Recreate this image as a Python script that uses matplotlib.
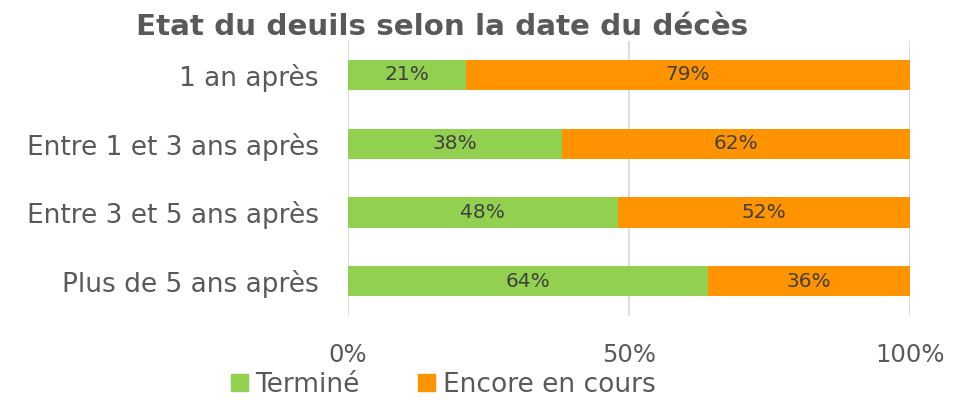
import matplotlib
matplotlib.use("Agg")
import matplotlib.pyplot as plt
from matplotlib.patches import Patch

plt.rcParams['font.family'] = ['DejaVu Sans']

categories = ["1 an après", "Entre 1 et 3 ans après", "Entre 3 et 5 ans après", "Plus de 5 ans après"]
termine = [21, 38, 48, 64]
encore = [79, 62, 52, 36]
series_names = ["Terminé", "Encore en cours"]
colors = ["#92D050", "#FF9300"]
xticks = [0, 50, 100]
xticklabels = ["0%", "50%", "100%"]

fig = plt.figure(figsize=(9.74, 4.03), dpi=100)
ax = fig.add_axes([348/974, 1-315.5/403, (910-348)/974, 275/403])

ypos = list(range(len(categories)))
b1 = ax.barh(ypos, termine, height=0.44, color=colors[0], zorder=2)
b2 = ax.barh(ypos, encore, left=termine, height=0.44, color=colors[1], zorder=2)
for bars, vals, lefts in ((b1, termine, [0]*4), (b2, encore, termine)):
    for y, v, l in zip(ypos, vals, lefts):
        ax.text(l + v/2, y, f"{v}%", ha="center", va="center", fontsize=14.5, color="#404040", zorder=3)

ax.set_ylim(3.5, -0.5)
ax.set_xlim(0, 100)
ax.set_yticks(ypos)
ax.set_yticklabels(categories, fontsize=19, color="#595959")
ax.set_xticks(xticks)
ax.set_xticklabels(xticklabels, fontsize=17.5, color="#595959")
ax.tick_params(axis='both', length=0)
ax.tick_params(axis='y', pad=21)
ax.tick_params(axis='x', pad=20)
for s in ax.spines.values():
    s.set_visible(False)
ax.grid(axis='x', color="#D9D9D9", linewidth=1.3, zorder=0)

fig.text(0.454, 0.932, "Etat du deuils selon la date du décès", ha="center", va="center",
         fontsize=21.2, fontweight="bold", color="#595959")

handles = [Patch(color=c) for c in colors]
fig.legend(handles, series_names, loc="center", bbox_to_anchor=(0.455, 0.045), ncol=2, frameon=False,
           fontsize=19, labelcolor="#595959", handlelength=0.65, handleheight=0.65,
           handletextpad=0.3, columnspacing=2.2)

fig.savefig("out.png", dpi=100)
